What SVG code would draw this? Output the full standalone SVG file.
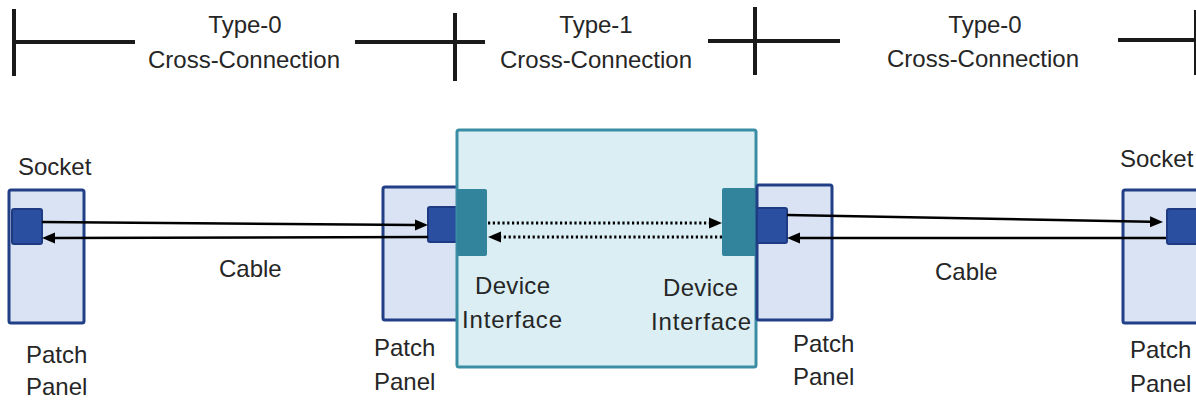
<svg xmlns="http://www.w3.org/2000/svg" width="1196" height="401" viewBox="0 0 1196 401">
<defs>
<style>
.t{font-family:"Liberation Sans",Arial,sans-serif;font-size:24px;fill:#262626}
.m{text-anchor:middle}
.br{stroke:#1a1a1a;stroke-width:4;fill:none}
.panel{fill:#DAE3F3;stroke:#203F86;stroke-width:3}
.sock{fill:#2B4FA0;stroke:#1E3A82;stroke-width:2}
.dev{fill:#DAEEF3;stroke:#3A8EA3;stroke-width:3}
.ifc{fill:#31849B}
.cab{stroke:#000;stroke-width:2.5;fill:none;marker-end:url(#ah)}
.dot{stroke:#000;stroke-width:3;fill:none;stroke-dasharray:2.2 2.6;marker-end:url(#ah)}
</style>
<marker id="ah" markerUnits="userSpaceOnUse" markerWidth="13" markerHeight="12" refX="0" refY="5.5" orient="auto" viewBox="0 0 13 11">
<path d="M0,0 L13,5.5 L0,11 z" fill="#000"/>
</marker>
</defs>
<rect width="1196" height="401" fill="#fff"/>

<g id="scale">
<line class="br" x1="14" y1="9" x2="14" y2="76"/>
<line class="br" x1="14" y1="42" x2="135" y2="42"/>
<line class="br" x1="355" y1="42" x2="485" y2="42"/>
<line class="br" x1="455" y1="13" x2="455" y2="81"/>
<line class="br" x1="708" y1="41" x2="840" y2="41"/>
<line class="br" x1="755" y1="7" x2="755" y2="75"/>
<line class="br" x1="1118" y1="40" x2="1196" y2="40"/>
<line class="br" x1="1196" y1="10" x2="1196" y2="75"/>
<text class="t m" x="245" y="33">Type-0</text>
<text class="t m" x="244" y="68">Cross-Connection</text>
<text class="t m" x="596" y="33">Type-1</text>
<text class="t m" x="596" y="68">Cross-Connection</text>
<text class="t m" x="985" y="33">Type-0</text>
<text class="t m" x="983" y="67">Cross-Connection</text>
</g>

<g id="panel-left">
<rect class="panel" x="9" y="190" width="75" height="133" rx="2"/>
<rect class="sock" x="12" y="209" width="30" height="35" rx="2"/>
<text class="t" x="18" y="175">Socket</text>
<text class="t" x="26" y="363">Patch</text>
<text class="t" x="26" y="395">Panel</text>
</g>

<g id="panel-mid-left">
<rect class="panel" x="383" y="187" width="76" height="133" rx="2"/>
<rect class="sock" x="428" y="207" width="29" height="35" rx="2"/>
<text class="t" x="374" y="356">Patch</text>
<text class="t" x="374" y="390">Panel</text>
</g>

<g id="device">
<rect class="dev" x="457" y="130" width="299" height="237" rx="2"/>
<rect class="ifc" x="457" y="189" width="30" height="67" rx="2"/>
<rect class="ifc" x="722" y="188" width="34" height="68" rx="2"/>
<text class="t" x="475" y="294" textLength="75">Device</text>
<text class="t" x="462" y="328" textLength="100">Interface</text>
<text class="t" x="663" y="296" textLength="75">Device</text>
<text class="t" x="651" y="330" textLength="100">Interface</text>
</g>

<g id="panel-mid-right">
<rect class="panel" x="757" y="185" width="75" height="135" rx="2"/>
<rect class="sock" x="757" y="208" width="30" height="35" rx="2"/>
<text class="t" x="793" y="352">Patch</text>
<text class="t" x="793" y="385">Panel</text>
</g>

<g id="panel-right">
<rect class="panel" x="1123" y="190" width="78" height="133" rx="2"/>
<rect class="sock" x="1167" y="209" width="34" height="35" rx="2"/>
<text class="t" x="1120" y="167">Socket</text>
<text class="t" x="1130" y="358">Patch</text>
<text class="t" x="1130" y="392">Panel</text>
</g>

<g id="connectors">
<line class="cab" x1="42" y1="222" x2="415" y2="224.9"/>
<line class="cab" x1="428" y1="237" x2="55" y2="238"/>
<line class="dot" x1="488" y1="223" x2="709" y2="223"/>
<line class="dot" x1="722" y1="237" x2="501" y2="237"/>
<line class="cab" x1="787" y1="215" x2="1150" y2="221.8"/>
<line class="cab" x1="1166" y1="238" x2="800" y2="238"/>
<text class="t" x="219" y="277">Cable</text>
<text class="t" x="935" y="280">Cable</text>
</g>
</svg>
